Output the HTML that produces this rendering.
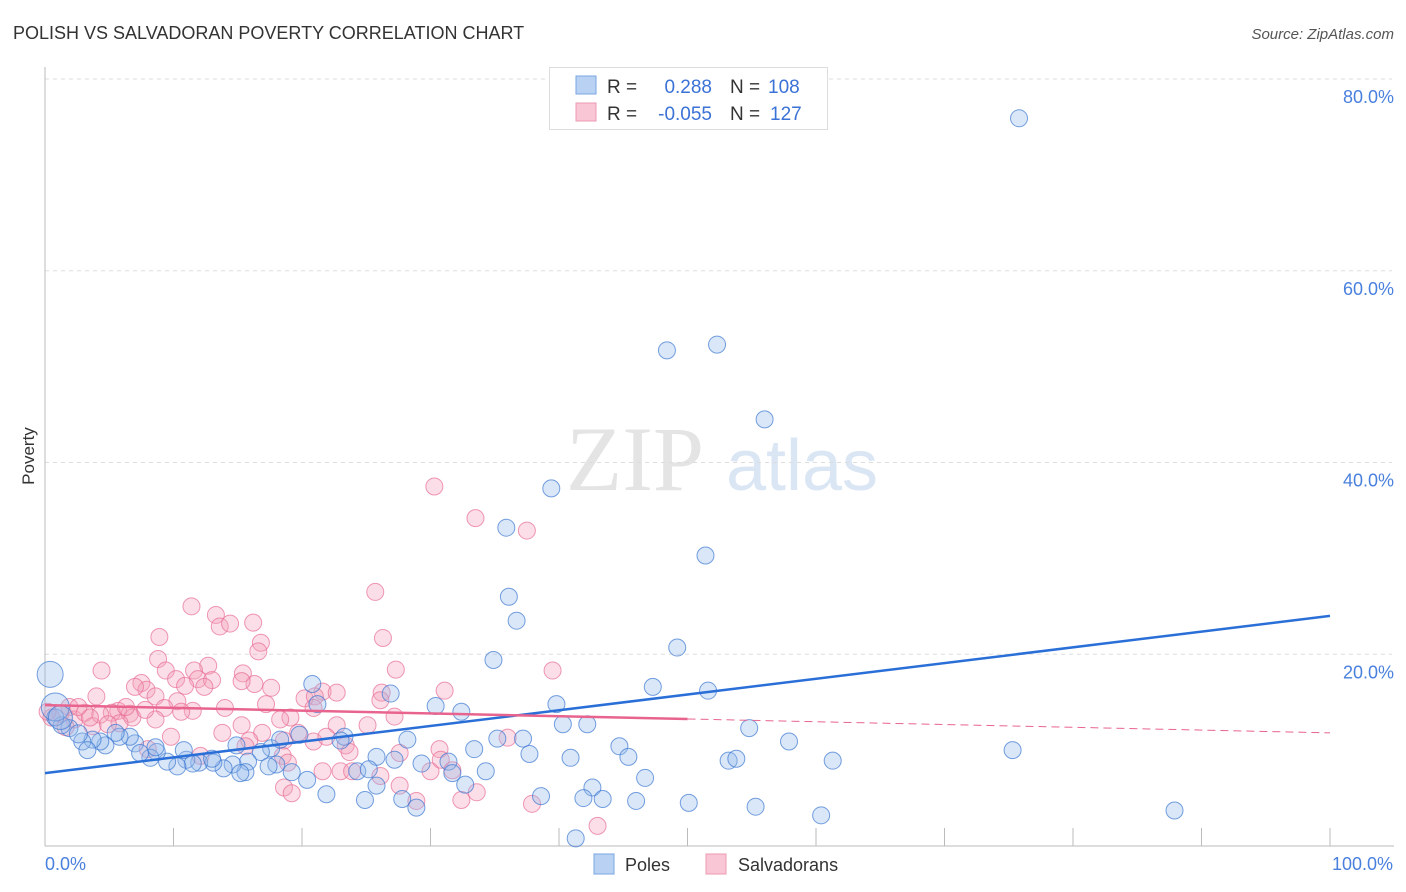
<!DOCTYPE html>
<html><head><meta charset="utf-8"><style>
body{margin:0;background:#fff;font-family:"Liberation Sans",sans-serif;}
svg{display:block}
</style></head><body>
<svg id="chart" width="1406" height="892" xmlns="http://www.w3.org/2000/svg">
<text x="13" y="39" font-size="18" fill="#333">POLISH VS SALVADORAN POVERTY CORRELATION CHART</text>
<text x="1394" y="39" font-size="15" fill="#555" font-style="italic" text-anchor="end">Source: ZipAtlas.com</text>
<g>
<text x="635" y="490" font-size="92" fill="#e4e4e4" font-family="Liberation Serif,serif" text-anchor="middle">ZIP</text>
<text x="802" y="490" font-size="72" fill="#dbe6f5" text-anchor="middle">atlas</text>
</g>
<text x="34" y="456" font-size="17" fill="#333" text-anchor="middle" transform="rotate(-90 34 456)">Poverty</text>
<g id="grid"></g>
<g id="axes"></g>
<g id="pts"></g>
<g id="lines"></g>
<g>
<rect x="549.5" y="67.5" width="278" height="62" fill="#fff" stroke="#ddd"/>
<rect x="576" y="76" width="20" height="18" fill="#b9d2f3" stroke="#7aa6e3"/>
<rect x="576" y="103" width="20" height="18" fill="#f8c6d5" stroke="#ee98b3"/>
<text x="607" y="93" font-size="19" fill="#333">R =</text>
<text x="712" y="93" font-size="19" fill="#3a72d6" text-anchor="end">0.288</text>
<text x="730" y="93" font-size="19" fill="#333">N =</text>
<text x="768" y="93" font-size="19" fill="#3a72d6">108</text>
<text x="607" y="120" font-size="19" fill="#333">R =</text>
<text x="712" y="120" font-size="19" fill="#3a72d6" text-anchor="end">-0.055</text>
<text x="730" y="120" font-size="19" fill="#333">N =</text>
<text x="770" y="120" font-size="19" fill="#3a72d6">127</text>
</g>
<g>
<rect x="594" y="854" width="20" height="20" fill="#b9d2f3" stroke="#7aa6e3"/>
<text x="625" y="871" font-size="18" fill="#333">Poles</text>
<rect x="706" y="854" width="20" height="20" fill="#f8c6d5" stroke="#ee98b3"/>
<text x="738" y="871" font-size="18" fill="#333">Salvadorans</text>
</g>
</svg>
<script>
const yTicks=[20,40,60,80];
const yTickLabels=["20.0%","40.0%","60.0%","80.0%"];
const xTicks=[0,10,20,30,40,50,60,70,80,90,100];
const polesX=[75.8,48.4,52.3,56.0,39.4,35.9,51.4,36.1,36.7,34.9,49.2,47.3,51.6,20.8,26.9,39.8,30.4,32.4,21.2,40.3,42.2,54.8,57.9,75.3,28.2,35.2,37.2,33.4,37.7,44.7,45.4,40.9,53.2,53.8,61.3,29.3,31.4,31.7,34.3,46.7,42.6,38.6,41.9,43.4,46.0,50.1,55.3,60.4,87.9,41.3,32.7,25.8,27.8,28.9,24.9,21.9,25.8,23.3,23.0,19.8,24.3,25.2,27.2,17.6,16.8,20.4,19.2,18.0,17.4,15.8,15.6,14.6,13.9,13.1,12.0,11.0,10.8,11.5,10.3,9.5,8.7,8.2,7.0,6.6,5.8,5.5,4.7,4.3,3.7,2.9,3.3,1.9,1.3,0.8,0.4,0.8,1.2,2.6,7.4,14.9,13.0,8.6,18.3,15.2];
const polesY=[75.9,51.7,52.3,44.5,37.3,33.2,30.3,26.0,23.5,19.4,20.7,16.6,16.2,16.9,15.9,14.8,14.6,14.0,14.8,12.7,12.7,12.3,10.9,10.0,11.1,11.2,11.2,10.1,9.6,10.4,9.3,9.2,8.9,9.1,8.9,8.6,8.8,7.6,7.8,7.1,6.1,5.2,5.0,4.9,4.7,4.5,4.1,3.2,3.7,0.8,6.4,6.3,4.9,4.0,4.8,5.4,9.3,11.4,11.0,11.6,7.8,8.0,9.0,10.2,9.8,6.9,7.7,8.5,8.3,8.8,7.7,8.5,8.1,8.7,8.7,9.0,10.0,8.6,8.3,8.8,9.8,9.2,10.7,11.4,11.4,11.8,10.5,10.9,11.1,10.9,10.0,12.3,12.6,13.4,17.9,14.5,13.4,11.7,9.7,10.5,9.1,10.3,11.1,7.6];
const polesSize=[8.5,8.5,8.5,8.5,8.5,8.5,8.5,8.5,8.5,8.5,8.5,8.5,8.5,8.5,8.5,8.5,8.5,8.5,8.5,8.5,8.5,8.5,8.5,8.5,8.5,8.5,8.5,8.5,8.5,8.5,8.5,8.5,8.5,8.5,8.5,8.5,8.5,8.5,8.5,8.5,8.5,8.5,8.5,8.5,8.5,8.5,8.5,8.5,8.5,8.5,8.5,8.5,8.5,8.5,8.5,8.5,8.5,8.5,8.5,8.5,8.5,8.5,8.5,8.5,8.5,8.5,8.5,8.5,8.5,8.5,8.5,8.5,8.5,8.5,8.5,8.5,8.5,8.5,8.5,8.5,8.5,8.5,8.5,8.5,8.5,8.5,8.5,8.5,8.5,8.5,8.5,8.5,8.5,8.5,13,14,12,9,8.5,8.5,8.5,8.5,8.5,8.5];
const salvX=[30.3,33.5,37.5,25.7,11.4,13.3,13.6,16.2,14.4,8.9,26.3,16.8,16.6,8.8,4.4,39.5,27.3,12.7,11.6,9.4,15.4,10.2,11.9,13.0,7.5,7.9,7.0,10.9,12.4,16.3,17.6,15.3,21.6,22.7,26.2,31.1,20.2,21.0,4.0,8.6,10.3,17.2,20.9,26.1,14.0,11.5,9.3,5.7,5.2,6.6,8.6,10.6,19.1,18.3,22.7,25.1,27.2,15.3,16.9,13.8,15.9,15.6,18.6,19.7,20.9,21.9,23.4,23.7,27.6,30.7,36.0,12.1,18.5,18.9,21.6,23.0,23.9,26.1,30.0,30.8,31.7,27.6,18.6,19.2,28.9,32.4,33.6,37.9,43.0,9.8,6.8,1.9,1.2,0.5,0.2,2.3,3.1,3.7,1.6,2.6,4.3,5.8,4.9,7.8,3.5,8.0,6.3];
const salvY=[37.5,34.2,32.9,26.5,25.0,24.1,22.9,23.3,23.2,21.8,21.7,21.2,20.3,19.5,18.3,18.3,18.4,18.8,18.3,18.3,18.0,17.4,17.4,17.3,17.0,16.3,16.6,16.7,16.6,16.9,16.5,17.2,16.1,16.0,16.0,16.2,15.4,15.6,15.6,15.6,15.1,14.8,14.4,15.2,14.4,14.1,14.4,14.1,13.9,13.8,13.2,14.0,13.4,13.2,12.6,12.6,13.5,12.6,11.8,11.8,11.0,10.4,11.0,11.8,10.9,11.4,10.5,9.8,9.7,10.1,11.3,9.4,9.4,8.7,7.8,7.8,7.8,7.3,7.8,9.0,7.9,6.3,6.1,5.5,4.7,4.8,5.6,4.4,2.1,11.4,13.4,14.5,13.8,13.4,14.0,13.2,13.9,12.5,12.4,14.5,13.7,12.8,12.7,14.2,13.4,10.1,14.5];
const polesTrend=[7.6,24.0];
const salvTrend=[14.7,11.8];
const salvSolidEnd=50;

const NS="http://www.w3.org/2000/svg";
const X0=45,X1=1330,Y0=846,Y80=79;
const xs=v=>X0+(X1-X0)*v/100;
const ys=v=>Y0-(Y0-Y80)*v/80;
function mk(tag,attrs,parent){const e=document.createElementNS(NS,tag);for(const k in attrs)e.setAttribute(k,attrs[k]);parent.appendChild(e);return e;}
const grid=document.getElementById('grid'),axes=document.getElementById('axes'),pts=document.getElementById('pts'),lines=document.getElementById('lines');
yTicks.forEach((t,i)=>{
 const l=mk('line',{x1:45,x2:1392,y1:ys(t),y2:ys(t),stroke:'#ddd','stroke-dasharray':'4,4'},grid);
 
 
 const tx=mk('text',{x:1394,y:ys(t)+24,'font-size':18,fill:'#4a80dd','text-anchor':'end'},axes);
 tx.textContent=yTickLabels[i];
 
 
});
const ax=mk('line',{x1:45,x2:45,y1:67,y2:846,stroke:'#bbb'},axes);


const bx=mk('line',{x1:45,x2:1394,y1:846,y2:846,stroke:'#bbb'},axes);


xTicks.forEach(t=>{
 const l=mk('line',{x1:xs(t),x2:xs(t),y1:828,y2:846,stroke:'#bbb'},axes);
 
 
});
const xl0=mk('text',{x:45,y:870,'font-size':18,fill:'#4a80dd'},axes);xl0.textContent='0.0%';


const xl1=mk('text',{x:1393,y:870,'font-size':18,fill:'#4a80dd','text-anchor':'end'},axes);xl1.textContent='100.0%';


salvX.forEach((x,i)=>{
 const c=mk('circle',{cx:xs(x),cy:ys(salvY[i]),r:8.5,fill:'rgba(244,160,185,0.35)',stroke:'rgba(232,110,150,0.7)','stroke-width':1},pts);
 
 
});
polesX.forEach((x,i)=>{
 const c=mk('circle',{cx:xs(x),cy:ys(polesY[i]),r:polesSize[i],fill:'rgba(150,185,235,0.35)',stroke:'rgba(60,120,210,0.7)','stroke-width':1},pts);
 
 
});
const bl=mk('line',{x1:xs(0),y1:ys(polesTrend[0]),x2:xs(100),y2:ys(polesTrend[1]),stroke:'#2a6fd8','stroke-width':2.5},lines);


const sv=v=>salvTrend[0]+(salvTrend[1]-salvTrend[0])*v/100;
const pl=mk('line',{x1:xs(0),y1:ys(salvTrend[0]),x2:xs(salvSolidEnd),y2:ys(sv(salvSolidEnd)),stroke:'#e8648e','stroke-width':2.5},lines);


const pd=mk('line',{x1:xs(salvSolidEnd),y1:ys(sv(salvSolidEnd)),x2:xs(100),y2:ys(salvTrend[1]),stroke:'#e8648e','stroke-width':1,'stroke-dasharray':'8,5'},lines);


</script>
</body></html>
